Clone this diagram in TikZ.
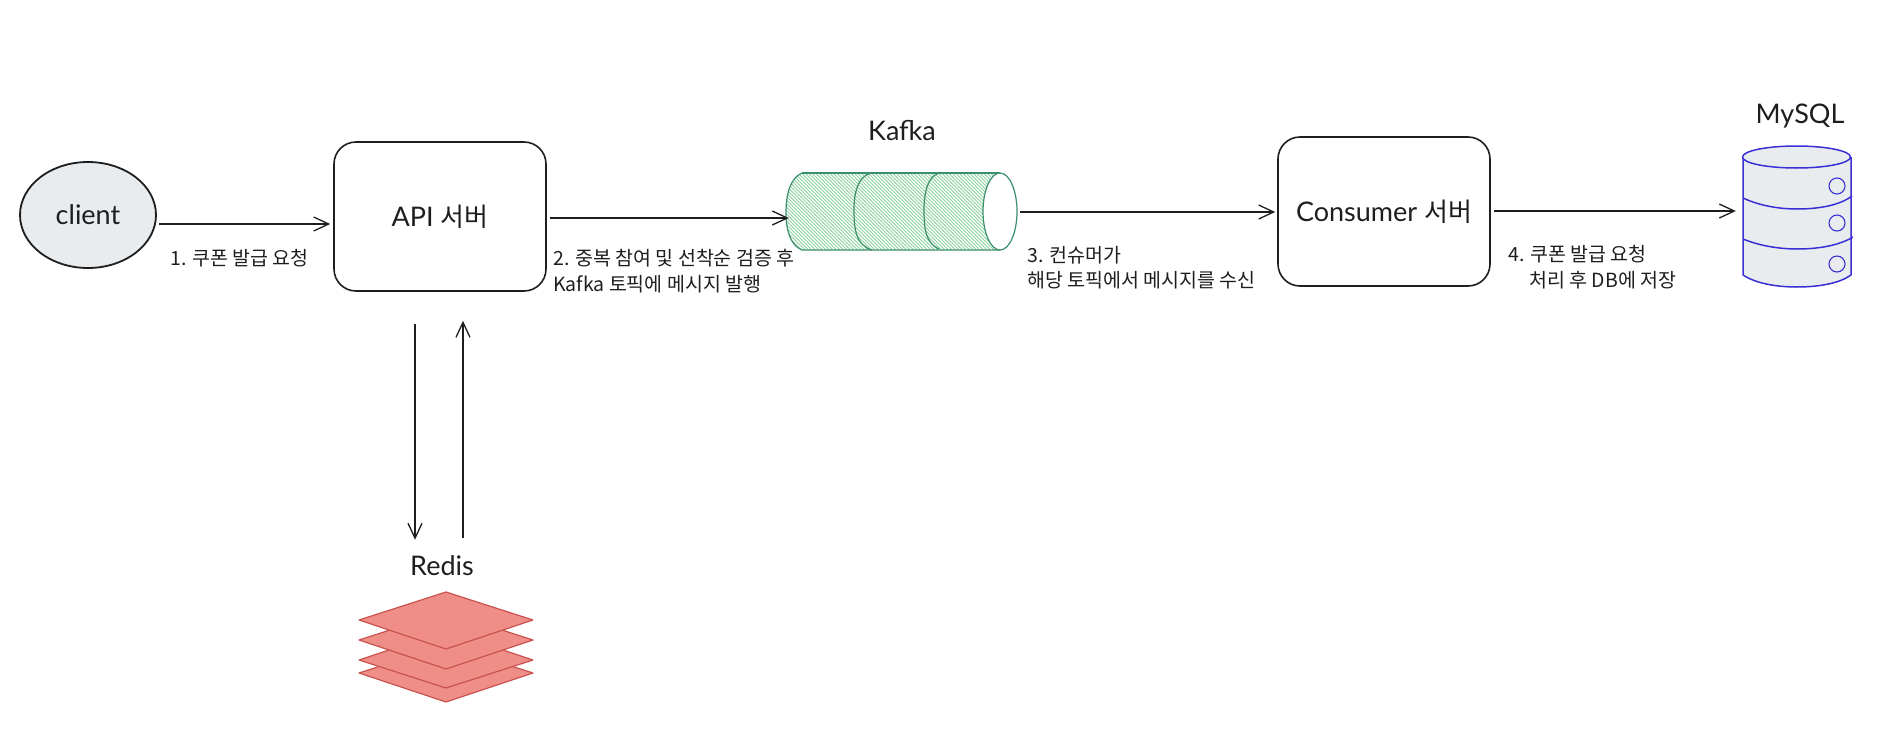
\documentclass[tikz,border=0pt]{standalone}
\usepackage{fontspec}
\setmainfont{Noto Sans CJK KR}
\newfontfamily\titlefont{Lato}
\usetikzlibrary{arrows.meta,calc,shapes.geometric}
\definecolor{ink}{HTML}{1E1E1E}
\definecolor{paleg}{HTML}{E9ECEF}
\definecolor{kgreen}{HTML}{3C8F6E}
\definecolor{hatch}{HTML}{8ED3A0}
\definecolor{mblue}{HTML}{3A2FD6}
\definecolor{rfill}{HTML}{EF8E89}
\definecolor{rline}{HTML}{C9524C}
\tikzset{
  x=1pt,y=-1pt,
  flow/.style={draw=ink,line width=1.3pt,-{Straight Barb[length=15pt,width=14pt,line width=1.3pt]}},
  box/.style={draw=ink,line width=1.6pt,rounded corners=22pt,minimum width=212pt,minimum height=149pt,inner sep=0pt,font=\titlefont\fontsize{27}{32}\selectfont,text=ink},
  title/.style={inner sep=0pt,text=ink,font=\titlefont\fontsize{27}{32}\selectfont},
  note/.style={inner sep=0pt,anchor=west,text=ink,font=\fontsize{19.5}{24}\selectfont},
  redislayer/.style={draw=rline,fill=rfill,line width=1.2pt,line join=round},
  dbline/.style={draw=mblue,line width=1.5pt},
}
\begin{document}
\begin{tikzpicture}
\useasboundingbox (0,0) rectangle (1892,736);

% client
\node[ellipse,draw=ink,fill=paleg,line width=1.8pt,minimum width=136pt,minimum height=106pt,inner sep=0pt,text=ink,font=\titlefont\fontsize{27}{32}\selectfont] (client) at (88,215) {client};

% servers
\node[box] (api) at (440,216.5) {API {\rmfamily\fontsize{26}{32}\selectfont 서버}};
\node[box] (consumer) at (1384,211.5) {Consumer {\rmfamily\fontsize{26}{32}\selectfont 서버}};

% Kafka
\node[inner sep=0pt,minimum width=231pt,minimum height=77pt] (kafka) at (901.5,211.5) {};
\node[title] (kafkat) at (902,131) {Kafka};
\begin{scope}
  \clip (802,173) .. controls (790,178) and (786,195) .. (786,212) .. controls (786,230) and (790,245) .. (802,250) -- (1000,250) -- (1000,173) -- cycle;
  \foreach \i in {700,703.5,...,1010}
    \draw[hatch,line width=.8pt] ({\i},173) -- ({\i+77},250);
\end{scope}
\draw[kgreen,line width=1.2pt] (802,173) .. controls (790,178) and (786,195) .. (786,212) .. controls (786,230) and (790,245) .. (802,250) -- (1000,250);
\draw[kgreen,line width=1.2pt] (802,173) -- (1000,173);
\draw[kgreen,line width=1.2pt] (870,173.5) .. controls (858,177) and (854,192) .. (854,210) .. controls (854,230) and (856,245) .. (872,250);
\draw[kgreen,line width=1.2pt] (938,173.5) .. controls (928,177) and (924,192) .. (924,210) .. controls (924,230) and (926,243) .. (939,249);
\draw[kgreen,fill=white,line width=1.2pt] (1000,211.5) ellipse [x radius=17,y radius=38.5];

% MySQL
\node[inner sep=0pt,minimum width=108pt,minimum height=132pt] (mysql) at (1797,221) {};
\node[title] (mysqlt) at (1800,116) {MySQL};
\path[fill=paleg] (1743,157) -- (1743,275) .. controls (1755,283) and (1775,287) .. (1797,287) .. controls (1820,287) and (1840,283) .. (1851,275) -- (1851,157) -- cycle;
\draw[dbline] (1743,157) -- (1743,275) .. controls (1755,283) and (1775,287) .. (1797,287) .. controls (1820,287) and (1840,283) .. (1851,275) -- (1851,157);
\draw[dbline,fill=paleg] (1796.5,157) ellipse [x radius=54,y radius=11];
\draw[dbline] (1743,198) .. controls (1760,206) and (1780,209) .. (1797,209) .. controls (1820,209) and (1840,205) .. (1852,196);
\draw[dbline] (1743,239) .. controls (1760,246) and (1780,249) .. (1797,249) .. controls (1820,249) and (1840,245) .. (1853,237);
\draw[mblue,line width=1.1pt] (1837,186) circle [radius=8];
\draw[mblue,line width=1.1pt] (1837,223) circle [radius=8];
\draw[mblue,line width=1.1pt] (1837,264) circle [radius=8];

% Redis
\node[title] (redist) at (442,566) {Redis};
\node[inner sep=0pt,minimum width=174pt,minimum height=110pt] (redis) at (446,647) {};
\draw[redislayer] (359,673) -- (446,645) -- (533,673) -- (446,702) -- cycle;
\draw[redislayer] (359,660) -- (446,631) -- (533,660) -- (446,688) -- cycle;
\draw[redislayer] (359,640) -- (446,612) -- (533,640) -- (446,669) -- cycle;
\draw[redislayer] (359,620) -- (446,592) -- (533,620) -- (446,649) -- cycle;

% connectors
\draw[flow,shorten <=2pt,shorten >=3pt] ([yshift=-9pt]client.east) -- ([yshift=-9pt]client.east -| api.west);
\draw[flow,shorten <=3pt,shorten >=-3pt] ([yshift=-1.5pt]api.east) -- ([yshift=-1.5pt]api.east -| kafka.west);
\draw[flow,shorten <=3pt,shorten >=2pt] ([yshift=-.5pt]kafka.east) -- ([yshift=-.5pt]kafka.east -| consumer.west);
\draw[flow,shorten <=3pt,shorten >=7pt] ([yshift=.5pt]consumer.east) -- ([yshift=.5pt]consumer.east -| mysql.west);
\coordinate (downtop) at ([shift={(-25pt,-32pt)}]api.south);
\coordinate (uptop) at ([shift={(23pt,-29pt)}]api.south);
\coordinate (downbase) at (redist.north -| downtop);
\coordinate (upbase) at (redist.north -| uptop);
\draw[flow] (downtop) -- ([yshift=16pt]downbase);
\draw[flow] ([yshift=18pt]upbase) -- (uptop);

% labels
\node[note] (n1) at (170,258) {1. 쿠폰 발급 요청};
\node[note] (n2a) at (553,258) {2. 중복 참여 및 선착순 검증 후};
\node[note] (n2b) at (553,284) {Kafka 토픽에 메시지 발행};
\node[note] (n3a) at (1027,255) {3. 컨슈머가};
\node[note] (n3b) at (1027,280) {해당 토픽에서 메시지를 수신};
\node[note] (n4a) at (1508,254) {4. 쿠폰 발급 요청};
\node[note] (n4b) at (1529,280) {처리 후 DB에 저장};
\end{tikzpicture}
\end{document}
